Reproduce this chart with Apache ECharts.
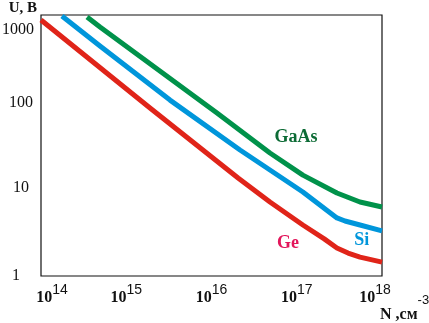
<!DOCTYPE html>
<html>
<head>
<meta charset="utf-8">
<script src="https://cdn.jsdelivr.net/npm/echarts@6/dist/echarts.min.js"></script>
<style>
html,body{margin:0;padding:0;background:#fff;}
#chart{width:429px;height:323px;}
</style>
</head>
<body>
<div id="chart"></div>
<script>
// Concentration N (cm^-3) and breakdown voltage U (V)
var geN  = [1.0e14, 1.90e15, 2.05e16, 4.85e16, 1.18e17, 2.10e17, 2.96e17, 4.0e17, 5.52e17, 1.0e18];
var geU  = [948, 89.8, 13.8, 7.25, 3.92, 2.7, 2.12, 1.85, 1.66, 1.45];
var siN  = [1.76e14, 4.92e14, 3.26e15, 2.16e16, 4.85e16, 1.18e17, 2.96e17, 3.68e17, 5.52e17, 1.0e18];
var siU  = [1055, 472, 111, 29.2, 17.1, 9.48, 4.73, 4.36, 3.92, 3.34];
var gaN  = [3.47e14, 4.92e14, 1.16e16, 4.85e16, 1.18e17, 2.96e17, 5.52e17, 1.0e18];
var gaU  = [1027, 786, 78.6, 26.9, 14.9, 9.23, 7.25, 6.34];
var seriesNames = ['Ge', 'Si', 'GaAs'];
// label anchor points (N, U) for the curve names
var labelAt = { Ge: [7.9e16, 2.42], Si: [5.8e17, 2.62], GaAs: [9.8e16, 41.3] };
var xTicks = [1e14, 1e15, 1e16, 1e17, 1e18];
var yTicks = [1, 10, 100, 1000];

function pairs(xs, ys){ return xs.map(function(x,i){ return [x, ys[i]]; }); }

var colors = { Ge: '#e02419', Si: '#0096db', GaAs: '#00924a' };
var textColors = { Ge: '#e3165b', Si: '#0096db', GaAs: '#0c6b35' };
var dataMap = { Ge: pairs(geN, geU), Si: pairs(siN, siU), GaAs: pairs(gaN, gaU) };

var SERIF = 'Liberation Serif';
var SANS = 'Liberation Sans';

var chart = echarts.init(document.getElementById('chart'));
chart.setOption({
  animation: false,
  backgroundColor: '#fff',
  grid: { left: 41, right: 47, top: 15, bottom: 47, outerBoundsMode: 'none', containLabel: false,
          show: true, borderColor: '#111', borderWidth: 1.2 },
  xAxis: {
    type: 'log', min: xTicks[0], max: xTicks[xTicks.length-1],
    axisLine: { show: false }, axisTick: { show: false }, splitLine: { show: false },
    axisLabel: {
      margin: 7,
      formatter: function(v){
        var e = Math.round(Math.log10(v));
        var bs = e === 14 ? 'b14' : 'b';
        var ss = e === 18 ? 's18' : 's';
        return '{' + bs + '|10}{' + ss + '|' + e + '}';
      },
      rich: {
        b:   { fontFamily: SERIF, fontWeight: 'bold', fontSize: 16, color: '#111', lineHeight: 23, verticalAlign: 'bottom' },
        b14: { fontFamily: SERIF, fontWeight: 'bold', fontSize: 16, color: '#111', lineHeight: 23, verticalAlign: 'bottom', padding: [0,0,0,22] },
        s:   { fontFamily: SANS, fontSize: 14, color: '#111', lineHeight: 14, verticalAlign: 'top' },
        s18: { fontFamily: SANS, fontSize: 14, color: '#111', lineHeight: 14, verticalAlign: 'top', padding: [0,14,0,0] }
      }
    },
    name: '{n|N ,см}{s|-3}',
    nameLocation: 'end', nameGap: -2, nameMoveOverlap: false,
    nameTextStyle: {
      align: 'left', verticalAlign: 'top', padding: [18,0,0,0],
      rich: {
        n: { fontFamily: SERIF, fontWeight: 'bold', fontSize: 16, color: '#111', lineHeight: 29, verticalAlign: 'bottom' },
        s: { fontFamily: SANS, fontSize: 13, color: '#111', lineHeight: 14, verticalAlign: 'top' }
      }
    }
  },
  yAxis: {
    type: 'log', min: yTicks[0], max: Math.pow(10, 261/86),
    axisLine: { show: false }, axisTick: { show: false }, splitLine: { show: false },
    axisLabel: {
      align: 'left', margin: 39,
      formatter: function(v){
        var e = Math.log10(v);
        if (Math.abs(e - Math.round(e)) > 1e-6) return '';
        return '{v' + Math.round(e) + '|' + Math.round(v) + '}';
      },
      rich: {
        v0: { fontFamily: SERIF, fontSize: 16, color: '#111', padding: [0,0,0,10] },
        v1: { fontFamily: SERIF, fontSize: 16, color: '#111', padding: [0,0,4,11] },
        v2: { fontFamily: SERIF, fontSize: 16, color: '#111', padding: [0,0,2,7] },
        v3: { fontFamily: SERIF, fontSize: 16, color: '#111', padding: [24,0,0,0] }
      }
    },
    name: 'U, B',
    nameLocation: 'end', nameGap: 7, nameMoveOverlap: false,
    nameTextStyle: { fontFamily: SERIF, fontWeight: 'bold', fontSize: 15, color: '#111', align: 'right', verticalAlign: 'middle', padding: [0,4,0,0] }
  },
  series: seriesNames.map(function(name){
    return {
      name: name, type: 'line', data: dataMap[name],
      showSymbol: false, symbol: 'none', smooth: false, clip: false,
      lineStyle: { color: colors[name], width: 5, cap: 'butt', join: 'round' },
      markPoint: {
        symbol: 'circle', symbolSize: 24, itemStyle: { color: 'transparent' },
        label: { show: true, position: 'inside', formatter: name, fontFamily: SERIF, fontWeight: 'bold', fontSize: 18, color: textColors[name] },
        data: [{ coord: labelAt[name] }]
      }
    };
  })
});
</script>
</body>
</html>
